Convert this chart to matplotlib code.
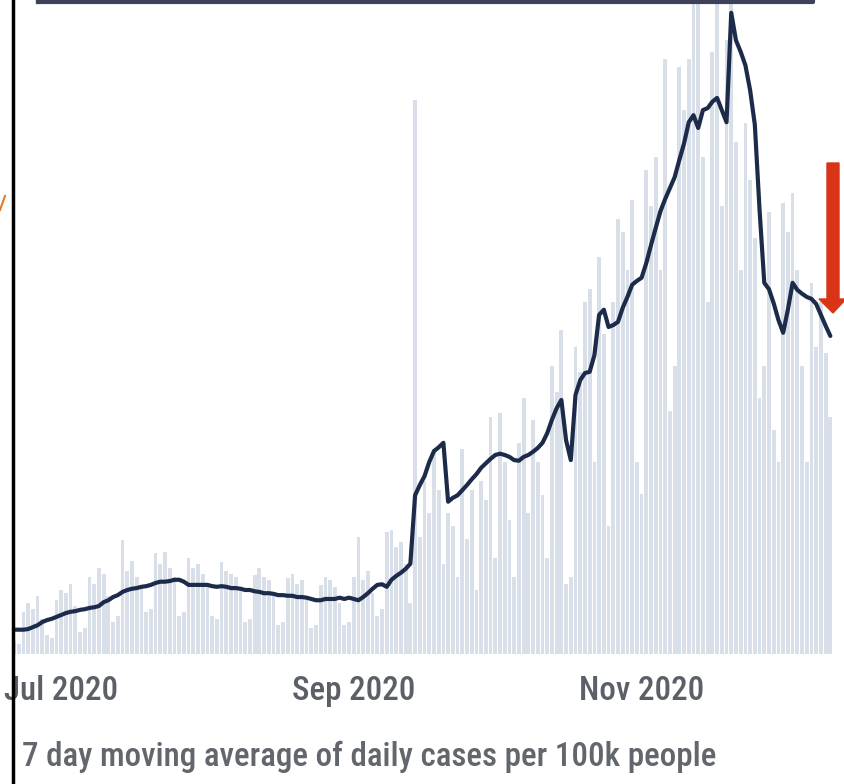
import matplotlib
matplotlib.use('Agg')
import matplotlib.pyplot as plt
import matplotlib.dates as mdates
import pandas as pd
from matplotlib.patches import Polygon

# daily new cases per 100k (bars) and 7 day moving average (line)
start_day = '2020-06-21'
daily_cases = [
    2.0, 1.5, 6.5, 8.0, 7.0, 9.0, 5.5,
    3.0, 2.5, 8.5, 10.0, 9.5, 11.0, 7.5,
    3.5, 4.0, 12.0, 11.0, 13.5, 12.5, 9.0,
    5.0, 6.0, 17.8, 13.0, 14.5, 12.0, 10.5,
    6.5, 7.0, 15.8, 14.0, 16.0, 13.5, 12.0,
    6.0, 6.5, 15.0, 13.5, 14.0, 12.5, 11.0,
    6.0, 5.5, 14.4, 13.0, 12.5, 12.0, 10.0,
    5.0, 5.5, 12.3, 13.5, 12.0, 11.5, 9.5,
    4.5, 5.0, 11.9, 12.5, 11.0, 11.5, 8.5,
    4.0, 4.5, 10.8, 12.0, 11.5, 10.5, 8.0,
    4.5, 5.0, 12.0, 18.3, 11.5, 13.0, 9.5,
    6.0, 7.0, 19.0, 19.4, 16.7, 17.5, 14.0,
    8.0, 86.6, 18.3, 27.0, 22.0, 32.0, 25.6,
    14.0, 22.0, 20.0, 12.0, 32.0, 18.0, 25.6,
    10.0, 27.0, 24.0, 37.0, 15.0, 37.6, 30.0,
    21.0, 12.0, 33.0, 40.0, 22.0, 36.5, 30.0,
    24.8, 15.0, 45.0, 41.0, 50.6, 11.0, 12.0,
    48.0, 44.0, 55.0, 57.0, 30.0, 62.0, 50.0,
    20.0, 55.0, 68.0, 66.0, 60.0, 71.0, 30.0,
    25.0, 75.6, 70.0, 77.7, 60.0, 93.0, 38.0,
    45.0, 91.7, 85.0, 93.0, 110.0, 108.0, 77.7,
    55.0, 94.0, 110.0, 70.0, 96.0, 120.0, 80.0,
    60.0, 83.0, 74.0, 65.0, 40.0, 45.0, 69.0,
    35.0, 30.0, 70.5, 66.0, 72.0, 60.0, 45.0,
    30.0, 58.0, 48.0, 55.0, 47.0, 37.0,
]
moving_avg = [
    3.8, 3.8, 3.8, 3.9, 4.2, 4.5, 5.0, 5.3, 5.5, 5.8,
    6.1, 6.4, 6.6, 6.7, 6.9, 7.0, 7.2, 7.3, 7.5, 8.1,
    8.4, 8.9, 9.2, 9.7, 10.0, 10.2, 10.3, 10.5, 10.6, 10.8,
    11.1, 11.3, 11.3, 11.4, 11.6, 11.6, 11.3, 10.8, 10.8, 10.8,
    10.8, 10.8, 10.6, 10.5, 10.6, 10.5, 10.3, 10.3, 10.2, 10.0,
    10.0, 9.8, 9.7, 9.5, 9.5, 9.4, 9.2, 9.2, 9.1, 9.1,
    8.9, 8.9, 8.8, 8.6, 8.4, 8.4, 8.6, 8.6, 8.6, 8.8,
    8.6, 8.8, 8.6, 8.4, 8.9, 9.5, 10.2, 10.8, 10.9, 10.5,
    11.6, 12.2, 12.7, 13.3, 14.1, 24.8, 26.4, 27.8, 30.0, 31.7,
    32.3, 33.0, 23.8, 24.4, 24.8, 25.6, 26.4, 27.3, 28.1, 29.1,
    29.8, 30.5, 31.1, 31.3, 31.1, 30.8, 30.3, 30.2, 30.8, 31.1,
    31.6, 32.2, 33.0, 34.5, 36.6, 38.4, 39.7, 33.4, 30.3, 40.5,
    42.8, 43.9, 44.1, 46.7, 53.0, 53.8, 51.1, 51.4, 51.9, 54.1,
    55.8, 57.7, 58.3, 58.8, 61.1, 63.9, 66.6, 69.2, 71.1, 72.8,
    74.5, 77.2, 79.8, 83.1, 84.2, 82.2, 85.0, 85.3, 86.3, 86.9,
    85.0, 83.1, 100.2, 95.9, 94.1, 92.0, 88.1, 82.7, 69.4, 58.0,
    57.0, 54.8, 52.2, 50.2, 53.8, 58.0, 56.9, 56.3, 55.8, 55.5,
    54.7, 53.0, 51.3, 49.7,
]
tick_dates = ['2020-07-01', '2020-09-01', '2020-11-01']
caption = '7 day moving average of daily cases per 100k people'

days = pd.date_range(start_day, periods=len(moving_avg))

plt.rcParams['font.family'] = ['Roboto Condensed', 'Roboto', 'DejaVu Sans']

fig = plt.figure(figsize=(8.45, 7.84), dpi=100)
ax = fig.add_axes([12 / 845, 130 / 784, 824 / 845, 654 / 784])

ax.bar(days, daily_cases, width=0.8, color='#d8dfe8', zorder=1)
ax.plot(days, moving_avg, color='#1d2b4a', lw=3.0, solid_joinstyle='round',
        solid_capstyle='round', zorder=3)

x0 = mdates.date2num(days[0])
ax.set_xlim(x0 - 0.42, x0 + 174.2)
ax.set_ylim(0, 102.2)
ax.set_yticks([])
ax.set_xticks(pd.to_datetime(tick_dates))
ax.xaxis.set_major_formatter(mdates.DateFormatter('%b %Y'))
ax.tick_params(axis='x', length=0, pad=15, labelsize=23.8, labelcolor='#5b6068')
for lab in ax.get_xticklabels():
    lab.set_fontweight('medium')
for s in ax.spines.values():
    s.set_visible(False)

fig.text(22 / 845, 1 - 757 / 784, caption, fontsize=23.8, color='#62666d',
         va='center', ha='left', fontweight='medium')

# overlay in pixel coordinates for the screenshot frame and the arrow
ov = fig.add_axes([0, 0, 1, 1])
ov.set_xlim(0, 845)
ov.set_ylim(784, 0)
ov.axis('off')
ov.patch.set_alpha(0)
ov.plot([13, 13], [0, 784], color='black', lw=2.5)
ov.plot([38, 813, 813], [2, 2, 0], color='#3d4159', lw=3)
ov.plot([38, 38], [0, 2], color='#3d4159', lw=3)
ov.plot([0, 5], [210, 196], color='#e07b2c', lw=1.5)
ov.add_patch(Polygon([(827, 163), (839, 163), (839, 299), (846, 299),
                      (833, 313), (819, 299), (827, 299)],
                     closed=True, color='#d93417'))

fig.savefig('out.png', dpi=100)
